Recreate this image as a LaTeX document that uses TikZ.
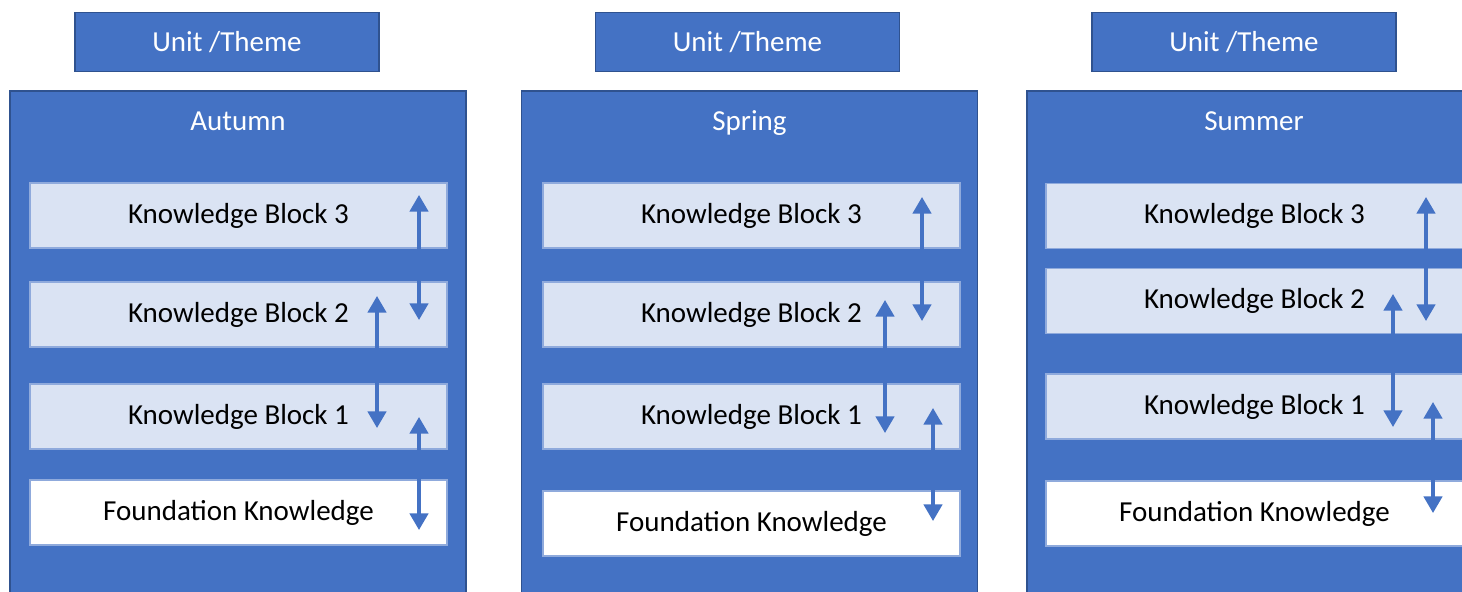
\documentclass[tikz,border=0pt]{standalone}
\usepackage{fontspec}
\setmainfont{Carlito}
\usepackage{tikz}
\usetikzlibrary{arrows.meta}

\definecolor{panelblue}{HTML}{4472C4}
\definecolor{darkblue}{HTML}{2F528F}
\definecolor{blockfill}{HTML}{DAE3F3}
\definecolor{blockline}{HTML}{8FAADC}

\begin{document}
\begin{tikzpicture}[
        font=\fontsize{16.5}{20}\selectfont,
        unitbox/.style={draw=darkblue, line width=0.9pt, fill=panelblue, text=white, minimum width=6.08cm, minimum height=1.18cm, inner sep=0pt},
        season/.style={draw=darkblue, line width=0.6pt, fill=panelblue, minimum width=9.12cm, minimum height=10.98cm, inner sep=0pt},
        seasonname/.style={text=white, inner sep=0pt, anchor=base},
        kblock/.style={draw=blockline, line width=0.6pt, fill=blockfill, minimum width=8.34cm, minimum height=1.3cm, inner sep=0pt},
        fblock/.style={kblock, fill=white},
        updown/.style={draw=panelblue, line width=1.9pt, {Triangle[width=10.5pt,length=9.5pt]}-{Triangle[width=10.5pt,length=9.5pt]}}
    ]
        \path[use as bounding box, clip] (0,0) rectangle (29.24,-11.84);

        % headers
        \node[unitbox] (h1) at (4.54,-0.84) {Unit /Theme};
        \node[unitbox] (h2) at (14.95,-0.84) {Unit /Theme};
        \node[unitbox] (h3) at (24.88,-0.84) {Unit /Theme};

        % terms
        \node[season] (p1) at (4.76,-7.31) {};
        \node[season] (p2) at (14.99,-7.31) {};
        \node[season] (p3) at (25.1,-7.31) {};

        \node[seasonname] (n1) at (4.76,-2.62) {Autumn};
        \node[seasonname] (n2) at (14.99,-2.62) {Spring};
        \node[seasonname] (n3) at (25.08,-2.62) {Summer};

        % autumn blocks
        \node[kblock] (b13) at (4.77,-4.31) {Knowledge Block 3};
        \node[kblock] (b12) at (4.77,-6.29) {Knowledge Block 2};
        \node[kblock] (b11) at (4.77,-8.33) {Knowledge Block 1};
        \node[fblock] (f1) at (4.77,-10.25) {Foundation Knowledge};

        % spring blocks
        \node[kblock] (b23) at (15.03,-4.31) {Knowledge Block 3};
        \node[kblock] (b22) at (15.03,-6.29) {Knowledge Block 2};
        \node[kblock] (b21) at (15.03,-8.33) {Knowledge Block 1};
        \node[fblock] (f2) at (15.03,-10.47) {Foundation Knowledge};

        % summer blocks
        \node[kblock] (b33) at (25.09,-4.32) {Knowledge Block 3};
        \node[kblock] (b32) at (25.09,-6.02) {Knowledge Block 2};
        \node[kblock] (b31) at (25.09,-8.13) {Knowledge Block 1};
        \node[fblock] (f3) at (25.09,-10.27) {Foundation Knowledge};

        % arrow ends
        \coordinate (a1top) at (8.38,-3.9);
        \coordinate (a1bot) at (8.38,-6.4);
        \coordinate (b1top) at (7.54,-5.92);
        \coordinate (b1bot) at (7.54,-8.56);
        \coordinate (c1top) at (8.38,-8.34);
        \coordinate (c1bot) at (8.38,-10.6);

        \coordinate (a2top) at (18.44,-3.94);
        \coordinate (a2bot) at (18.44,-6.42);
        \coordinate (b2top) at (17.7,-6.0);
        \coordinate (b2bot) at (17.7,-8.66);
        \coordinate (c2top) at (18.66,-8.16);
        \coordinate (c2bot) at (18.66,-10.42);

        \coordinate (a3top) at (28.52,-3.94);
        \coordinate (a3bot) at (28.52,-6.42);
        \coordinate (b3top) at (27.86,-5.88);
        \coordinate (b3bot) at (27.86,-8.54);
        \coordinate (c3top) at (28.66,-8.04);
        \coordinate (c3bot) at (28.66,-10.26);

        \draw[updown] (a1top) -- (a1bot);
        \draw[updown] (b1top) -- (b1bot);
        \draw[updown] (c1top) -- (c1bot);

        \draw[updown] (a2top) -- (a2bot);
        \draw[updown] (b2top) -- (b2bot);
        \draw[updown] (c2top) -- (c2bot);

        \draw[updown] (a3top) -- (a3bot);
        \draw[updown] (b3top) -- (b3bot);
        \draw[updown] (c3top) -- (c3bot);
\end{tikzpicture}
\end{document}
